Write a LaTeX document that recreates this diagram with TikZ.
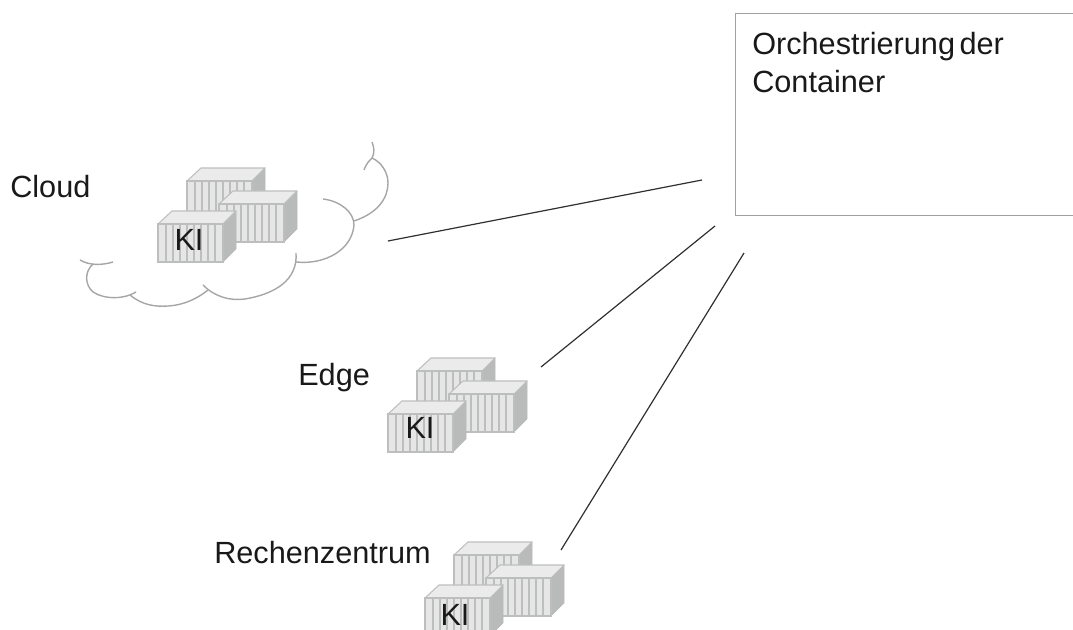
\documentclass[tikz,border=0pt]{standalone}
\usepackage{fontspec}
\setmainfont{Liberation Sans}
\definecolor{cfront}{HTML}{E6E6E6}
\definecolor{cslat}{HTML}{BDBFBF}
\definecolor{cside}{HTML}{B9BBBB}
\definecolor{ctop}{HTML}{EBEBEB}
\definecolor{cloudc}{HTML}{A6A6A6}
\definecolor{linec}{HTML}{303030}
\definecolor{boxc}{HTML}{A0A0A0}
\tikzset{
  lbl/.style={font=\fontsize{23}{28.5}\selectfont, inner sep=0pt, anchor=base west, text=black!90},
  kilbl/.style={font=\fontsize{23}{28.5}\selectfont, inner sep=0pt, anchor=base, text=black!90},
  conn/.style={draw=linec, line width=0.9pt},
  cloudline/.style={draw=cloudc, line width=1.05pt},
  pics/container/.style={code={
    \fill[cside,draw=cside,line width=0.5pt] (65,0) -- (78,-13) -- (78,25) -- (65,38) -- cycle;
    \fill[ctop,draw=cslat,line width=0.8pt,line join=round] (0,0) -- (14,-13) -- (78,-13) -- (65,0) -- cycle;
    \fill[cfront,draw=cslat,line width=1pt] (0,0) rectangle (65,38);
    \foreach \sx in {8,15,...,63}{\draw[cslat,line width=1.5pt] (\sx,0) -- (\sx,38);}
  }},
  pics/stack/.style={code={
    \pic at (29,-43) {container};
    \pic at (61,-20) {container};
    \pic at (0,0) {container};
  }}
}
\begin{document}
\begin{tikzpicture}[x=0.75pt,y=-0.75pt]
\useasboundingbox (0,0) rectangle (1073,630);
\clip (0,0) rectangle (1073,630);
% cloud
\draw[cloudline] (80,260) .. controls (90,266) and (103,265) .. (113,262);
\draw[cloudline] (93,264) .. controls (84,272) and (85,285) .. (93,292) .. controls (105,300) and (125,299) .. (136,292);
\draw[cloudline] (130,295) .. controls (142,305) and (155,307) .. (168,306) .. controls (185,305) and (198,298) .. (208,290);
\draw[cloudline] (203,285) .. controls (215,297) and (230,301) .. (245,299) .. controls (275,294) and (298,280) .. (296,253);
\draw[cloudline] (296,262) .. controls (325,265) and (352,250) .. (354,225) .. controls (354,212) and (340,201) .. (323,199);
\draw[cloudline] (354,221) .. controls (378,213) and (388,198) .. (388,183) .. controls (388,172) and (381,162) .. (372,158);
\draw[cloudline] (364,170) .. controls (366,164) and (369,161) .. (372,158) .. controls (375,153) and (374,147) .. (372,142);
% containers
\pic at (158,224) {stack};
\pic at (388,414) {stack};
\pic at (425,598) {stack};
\node[kilbl] (ki1) at (189,251) {KI};
\node[kilbl] (ki2) at (420,438) {KI};
\node[kilbl] (ki3) at (455,625) {KI};
% labels
\node[lbl] (cloud) at (10,198) {Cloud};
\node[lbl] (edge) at (298,385) {Edge};
\node[lbl] (rz) at (214,563) {Rechenzentrum};
% box
\node[draw=boxc, line width=0.8pt, minimum width=360*0.75pt, minimum height=202*0.75pt, anchor=north west, inner sep=0pt] (orch) at (735,13) {};
\node[lbl, align=left, anchor=north west, text width=300*0.75pt] (orchtext) at (752,32) {Orchestrierung\hspace{3.4pt}der\\Container};
% connectors
\coordinate (c1a) at (388,241); \coordinate (c1b) at (702,180);
\coordinate (c2a) at (541,367); \coordinate (c2b) at (715,226);
\coordinate (c3a) at (561,550); \coordinate (c3b) at (744,253);
\draw[conn] (c1a) -- (c1b);
\draw[conn] (c2a) -- (c2b);
\draw[conn] (c3a) -- (c3b);
\end{tikzpicture}
\end{document}
